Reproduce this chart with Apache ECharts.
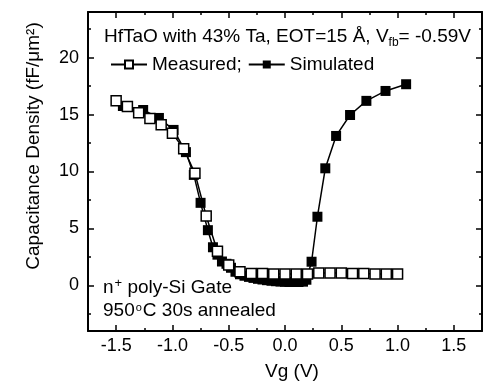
<!DOCTYPE html>
<html>
<head>
<meta charset="utf-8">
<script src="https://cdn.jsdelivr.net/npm/echarts@6/dist/echarts.min.js"></script>
<style>
  html, body { margin: 0; padding: 0; background: #fff; }
  #chart { width: 485px; height: 389px; }
</style>
</head>
<body>
<div id="chart"></div>
<script>
  // measured C-V (open squares)
  var measuredVg = [-1.5, -1.4, -1.3, -1.2, -1.1, -1.0, -0.9, -0.8, -0.7, -0.6, -0.5, -0.4, -0.3,
    -0.2, -0.1, 0.0, 0.1, 0.2, 0.3, 0.4, 0.5, 0.6, 0.7, 0.8, 0.9, 1.0]
  var measuredC = [16.2, 15.7, 15.15, 14.65, 14.1, 13.35, 12.0, 9.85, 6.1, 3.0, 1.8, 1.2, 1.05,
    1.05, 1.0, 1.0, 1.0, 1.0, 1.1, 1.1, 1.1, 1.05, 1.05, 1.0, 1.0, 1.0]

  // simulated C-V (filled squares)
  var simulatedVg = [-1.44, -1.26, -1.12, -0.99, -0.88, -0.81, -0.75, -0.685, -0.64, -0.6, -0.56,
    -0.52, -0.48, -0.44, -0.4, -0.36, -0.32, -0.28, -0.24, -0.2, -0.16, -0.12, -0.08, -0.04, 0.0,
    0.04, 0.08, 0.12, 0.16, 0.19, 0.236, 0.288, 0.358, 0.454, 0.578, 0.723, 0.893, 1.076]
  var simulatedC = [15.75, 15.4, 14.7, 13.65, 11.7, 9.7, 7.25, 4.85, 3.35, 2.7, 2.1,
    1.9, 1.55, 1.2, 0.98, 0.85, 0.75, 0.66, 0.58, 0.52, 0.46, 0.41, 0.37, 0.34, 0.32,
    0.3, 0.3, 0.3, 0.33, 0.5, 2.08, 6.03, 10.28, 13.12, 14.96, 16.2, 17.07, 17.66]

  var xTickLabels = [-1.5, -1.0, -0.5, 0.0, 0.5, 1.0, 1.5]
  var yTickLabels = [0, 5, 10, 15, 20]

  var font = 'Liberation Sans, Arial, sans-serif'

  function pairs(xs, ys) {
    return xs.map(function (x, i) { return [x, ys[i]] })
  }

  function isLabel(list, v) {
    return list.some(function (t) { return Math.abs(t - v) < 1e-6 })
  }

  function xAxisOf(position, showLabel) {
    return {
      type: 'value',
      position: position,
      min: -1.75,
      max: 1.75,
      minInterval: 0.5,
      maxInterval: 0.5,
      axisLine: { show: true, onZero: false, lineStyle: { color: '#000', width: 2 } },
      axisTick: { show: true, inside: true, length: 6, lineStyle: { color: '#000', width: 1.5 } },
      minorTick: { show: true, splitNumber: 2, length: 3, lineStyle: { color: '#000', width: 1.5 } },
      splitLine: { show: false },
      axisLabel: {
        show: showLabel,
        margin: 6,
        color: '#000',
        fontFamily: font,
        fontSize: 18,
        formatter: function (v) { return isLabel(xTickLabels, v) ? v.toFixed(1) : '' }
      }
    }
  }

  function yAxisOf(position, showLabel) {
    return {
      type: 'value',
      position: position,
      min: -4,
      max: 24,
      minInterval: 5,
      maxInterval: 5,
      axisLine: { show: true, onZero: false, lineStyle: { color: '#000', width: 2 } },
      axisTick: { show: true, inside: true, length: 6, lineStyle: { color: '#000', width: 1.5 } },
      minorTick: { show: true, splitNumber: 2, length: 3, lineStyle: { color: '#000', width: 1.5 } },
      splitLine: { show: false },
      axisLabel: {
        show: showLabel,
        margin: 9,
        color: '#000',
        fontFamily: font,
        fontSize: 18,
        formatter: function (v) { return isLabel(yTickLabels, v) ? String(v) : '' }
      }
    }
  }

  var chart = echarts.init(document.getElementById('chart'))

  chart.setOption({
    backgroundColor: '#fff',
    animation: false,
    grid: { left: 88, right: -6, top: 12, bottom: 58 },
    xAxis: [xAxisOf('bottom', true), xAxisOf('top', false)],
    yAxis: [yAxisOf('left', true), yAxisOf('right', false)],
    legend: {
      left: 105,
      top: 50,
      itemWidth: 36,
      itemHeight: 10,
      itemGap: 6,
      data: ['Measured', 'Simulated'],
      textStyle: { color: '#000', fontFamily: font, fontSize: 19 },
      formatter: function (name) { return name === 'Measured' ? name + ';' : name }
    },
    graphic: [
      {
        type: 'text',
        x: 104,
        y: 37,
        style: {
          text: '{a|HfTaO with 43% Ta, EOT=15 Å, V}{s|fb}{a|= -0.59V}',
          verticalAlign: 'middle',
          rich: {
            a: { fontFamily: font, fontSize: 19, color: '#000' },
            s: { fontFamily: font, fontSize: 12, color: '#000', padding: [12, 0, 0, 0] }
          }
        }
      },
      {
        type: 'text',
        x: 103,
        y: 288,
        style: {
          text: '{a|n}{p|+}{a| poly-Si Gate}',
          verticalAlign: 'middle',
          rich: {
            a: { fontFamily: font, fontSize: 19, color: '#000' },
            p: { fontFamily: font, fontSize: 13, color: '#000', padding: [0, 0, 10, 1] }
          }
        }
      },
      {
        type: 'text',
        x: 103,
        y: 311,
        style: {
          text: '{a|950}{p|o}{a|C 30s annealed}',
          verticalAlign: 'middle',
          rich: {
            a: { fontFamily: font, fontSize: 19, color: '#000' },
            p: { fontFamily: font, fontSize: 11, color: '#000', padding: [0, 1, 6, 1] }
          }
        }
      },
      {
        type: 'text',
        x: 34,
        y: 146,
        rotation: Math.PI / 2,
        style: {
          text: 'Capacitance Density (fF/μm²)',
          fontFamily: font,
          fontSize: 19,
          fill: '#000',
          align: 'center',
          verticalAlign: 'middle'
        }
      },
      {
        type: 'text',
        x: 292,
        y: 372,
        style: {
          text: 'Vg (V)',
          fontFamily: font,
          fontSize: 19,
          fill: '#000',
          align: 'center',
          verticalAlign: 'middle'
        }
      }
    ],
    series: [
      {
        name: 'Simulated',
        type: 'line',
        data: pairs(simulatedVg, simulatedC),
        symbol: 'rect',
        symbolSize: 10,
        itemStyle: { color: '#000', borderColor: '#000', borderWidth: 0 },
        lineStyle: { color: '#000', width: 1.5 },
        z: 2
      },
      {
        name: 'Measured',
        type: 'line',
        data: pairs(measuredVg, measuredC),
        symbol: 'rect',
        symbolSize: 10,
        showAllSymbol: true,
        itemStyle: { color: '#fff', borderColor: '#000', borderWidth: 1.5 },
        lineStyle: { color: '#000', width: 1.5 },
        z: 3
      }
    ]
  })
</script>
</body>
</html>
